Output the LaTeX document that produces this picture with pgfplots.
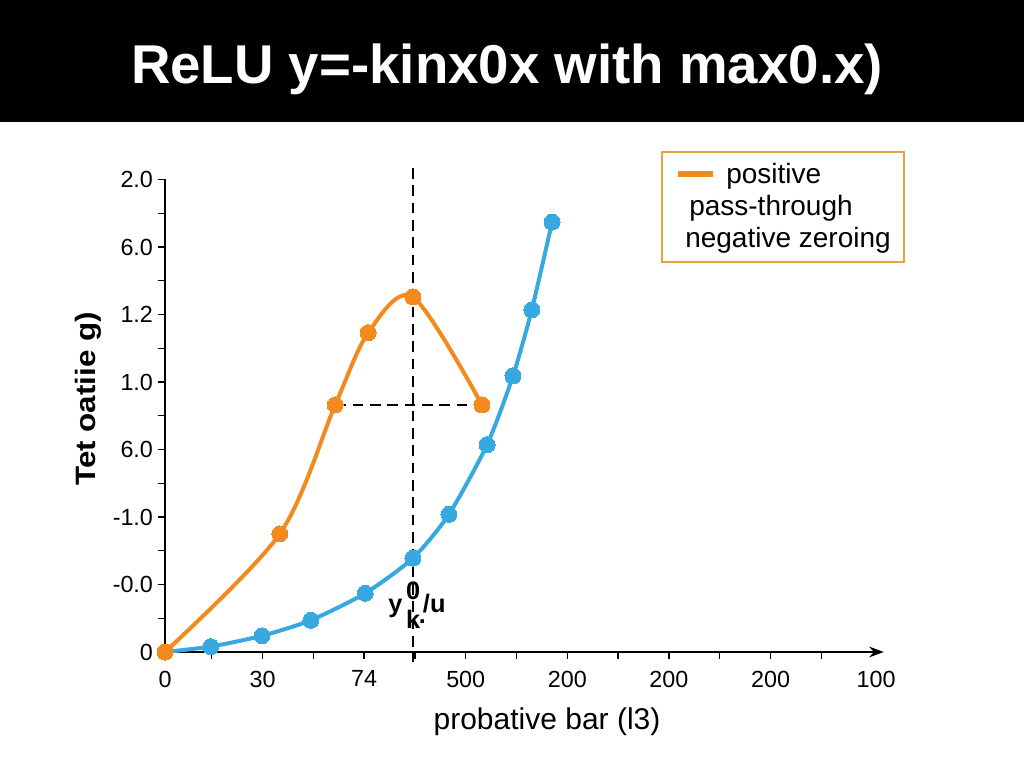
\documentclass[border=0pt]{standalone}
\usepackage{fontspec}
\setmainfont{Liberation Sans}
\usepackage{graphicx}
\usepackage{pgfplots}
\pgfplotsset{compat=1.18}
\usetikzlibrary{arrows.meta}

\definecolor{reluorange}{HTML}{F28A1E}
\definecolor{relublue}{HTML}{37A8E0}
\definecolor{legendframe}{HTML}{E8A43C}

% curve through the rectified region
\pgfplotstableread{
x     y
0     0
2.26  1.75
3.35  3.66
4.00  4.73
4.88  5.26
6.24  3.66
}\positivedata

\pgfplotstableread{
x     y
0     0
0.90  0.08
1.91  0.24
2.87  0.47
3.94  0.87
4.88  1.39
5.59  2.04
6.34  3.07
6.85  4.09
7.22  5.07
7.62  6.37
}\zeroingdata

\begin{document}
\begin{tikzpicture}[x=0.75pt,y=0.75pt]
\useasboundingbox (0,0) rectangle (1024,768);
\fill[white] (0,0) rectangle (1024,768);
% title bar
\fill[black] (0,646) rectangle (1024,768);
\node[text=white, anchor=base, inner sep=0pt,
      font=\fontsize{41}{49}\selectfont\bfseries] at (507,684)
      {ReLU y=-kinx0x with max0.x)};

\begin{axis}[
  at={(123.75pt,87pt)}, anchor=south west,
  x=38.1pt, y=50.625pt,
  xmin=0, xmax=14.15, ymin=0, ymax=7,
  axis x line=bottom, axis y line=left,
  axis line style={line width=1.5pt, black},
  x axis line style={-{Stealth[length=11pt,width=8pt]}},
  y axis line style={-},
  xtick={0,0.92,1.92,2.92,3.92,4.92,5.92,6.92,7.92,8.92,9.92,10.92,11.92,12.92},
  xticklabels={0,,30,,74,,500,,200,,200,,200,},
  extra x ticks={14}, extra x tick labels={100},
  extra x tick style={major tick style={draw=none}},
  ytick={0,0.5,...,7},
  yticklabels={0,,-0.0,,-1.0,,6.0,,1.0,,1.2,,6.0,,2.0},
  tick align=outside, major tick length=5.5pt,
  every tick/.style={black, line width=1.1pt},
  tick label style={font=\fontsize{17.5}{21}\selectfont},
  xticklabel style={yshift=-5pt},
  clip=false,
]
% reference lines through the peak
\addplot[black, line width=1.5pt, dash pattern=on 8pt off 5pt]
  coordinates {(4.88,7.17) (4.88,-0.15)};
\addplot[black, line width=1.5pt, dash pattern=on 8pt off 5pt]
  coordinates {(3.35,3.66) (6.24,3.66)};

\addplot[relublue, line width=3pt, smooth, tension=0.4,
         mark=*, mark size=6pt, mark options={fill=relublue, draw=relublue, line width=0pt}]
  table[x=x, y=y] {\zeroingdata};
\addplot[reluorange, line width=3pt, smooth, tension=0.5,
         mark=*, mark size=6pt, mark options={fill=reluorange, draw=reluorange, line width=0pt}]
  table[x=x, y=y] {\positivedata};
\end{axis}

% index annotation at the crossing
\node[inner sep=0pt, anchor=base west, font=\fontsize{19}{22}\selectfont\bfseries]
  at (388,156)
  {y\hspace{0.15em}\rlap{\raisebox{0.48em}{0}}\raisebox{-0.64em}{k}\hspace{-0.05em}\raisebox{-0.45em}{.}\hspace{-0.12em}/u};

% axis titles
\node[font=\fontsize{22.5}{27}\selectfont] at (547,46) {probative bar (l3)};
\node[rotate=90, font=\fontsize{21}{25}\selectfont\bfseries] at (88,369)
  {\scalebox{1.12}[1]{Tet oatiie g)}};

% legend
\draw[legendframe, line width=1.5pt] (662,616) rectangle (904,506);
\draw[reluorange, line width=4pt] (678,594) -- (713,594);
\begin{scope}[every node/.style={inner sep=0pt, anchor=west, font=\fontsize{21}{25}\selectfont}]
\node at (726,592) {positive};
\node at (689,560) {pass-through};
\node at (685,528) {negative zeroing};
\end{scope}
\end{tikzpicture}
\end{document}
